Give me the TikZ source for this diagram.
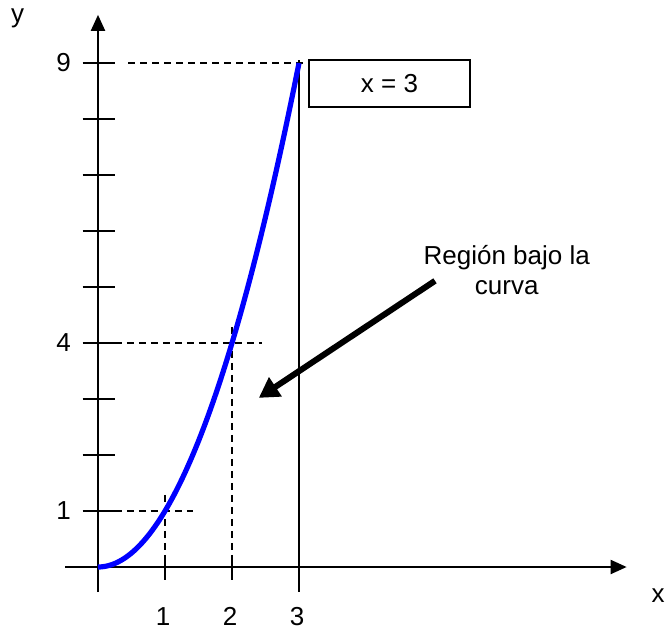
\documentclass[tikz,border=0pt]{standalone}
\usepackage{fontspec}
\setmainfont{Liberation Sans}
\usepackage{xcolor}
\usetikzlibrary{arrows.meta}
\definecolor{CurveBlue}{RGB}{0,0,255}
\tikzset{
  >=Latex,
  axisline/.style={-{Triangle[length=8pt,width=7pt]},line width=1pt,draw=black},
  tickmark/.style={line width=1pt,draw=black},
  guide/.style={line width=0.6pt,dash pattern=on 3.5pt off 2.5pt,draw=black},
  curveline/.style={line width=2.6pt,draw=CurveBlue},
  pointer/.style={-{Triangle[length=10pt,width=11pt]},line width=3pt,draw=black},
  labelbox/.style={draw=black,line width=0.75pt,fill=white,minimum width=80.5pt,
    minimum height=23.5pt,inner sep=0pt,font=\fontsize{13}{15}\selectfont},
  ticklabel/.style={inner sep=0pt,font=\fontsize{13}{15}\selectfont},
  note/.style={align=center,inner sep=0pt,font=\fontsize{13}{15}\selectfont}
}
\begin{document}
\begin{tikzpicture}[x=33.5pt,y=28pt]
  \useasboundingbox (-1.4627,-1.107) rectangle (8.4925,10.125);

  % axes
  \coordinate (origin) at (0,0);
  \coordinate (xstart) at (-0.49,0);
  \coordinate (xend) at (7.89,0);
  \coordinate (ystart) at (0,-0.45);
  \coordinate (yend) at (0,9.86);
  \draw[axisline] (xstart) -- (xend);
  \draw[axisline] (ystart) -- (yend);
  \node[ticklabel,anchor=base] (xname) at (8.36,-0.63) {x};
  \node[ticklabel,anchor=base] (yname) at (-1.20,9.73) {y};

  % ticks
  \foreach \k in {1,...,9}
    \draw[tickmark] (-0.23,\k) -- (0.25,\k);
  \foreach \k in {1,2}
    \draw[tickmark] (\k,0.21) -- (\k,-0.23);
  \foreach \k in {1,4,9}
    \node[ticklabel,anchor=east] (ylab\k) at (-0.40,\k) {\k};
  \foreach \k in {1,2,3}
    \node[ticklabel,anchor=base] (xlab\k) at (\k-0.03,-1.04) {\k};

  % guides
  \draw[guide] (0.45,9) -- (3.28,9);
  \draw[guide] (0.25,4) -- (2.45,4);
  \draw[guide] (0.25,1) -- (1.42,1);
  \draw[guide] (1,1.29) -- (1,0.21);
  \draw[guide] (2,4.29) -- (2,0.21);
  \draw[line width=0.6pt] (3,9.05) -- (3,-0.45);

  % curve
  \draw[curveline] plot[domain=0:3,samples=60,smooth] (\x,{\x*\x});

  \node[labelbox] (bound) at (4.35,8.63) {x = 3};
  \node[note] (region) at (6.10,5.30) {Región bajo la\\curva};

  \coordinate (arrowtail) at (5.03,5.11);
  \coordinate (arrowtip) at (2.40,3.02);
  \draw[pointer] (arrowtail) -- (arrowtip);
\end{tikzpicture}
\end{document}
